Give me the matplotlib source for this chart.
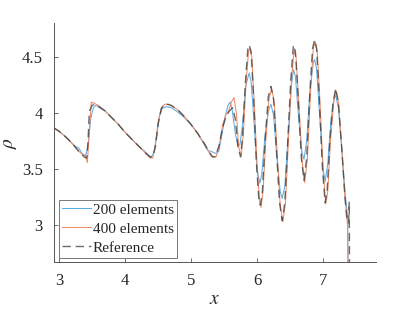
import matplotlib
matplotlib.use("Agg")
import matplotlib.pyplot as plt

plt.rcParams['font.family'] = 'serif'
plt.rcParams['font.serif'] = ['Liberation Serif', 'DejaVu Serif']
plt.rcParams['mathtext.fontset'] = 'stix'

# Reference solution
x_ref = [2.92, 3.0, 3.1, 3.2, 3.3, 3.38, 3.42, 3.44, 3.46, 3.50, 3.55, 3.6, 3.7, 3.8, 3.9, 4.0,
         4.1, 4.2, 4.3, 4.38, 4.42, 4.46, 4.50, 4.55, 4.6, 4.65, 4.7, 4.8, 4.9, 5.0, 5.1, 5.2,
         5.28, 5.32, 5.36, 5.42, 5.48, 5.53, 5.58, 5.63, 5.67, 5.71, 5.75, 5.78, 5.82, 5.86,
         5.88, 5.91, 5.95, 5.99, 6.03, 6.05, 6.08, 6.12, 6.17, 6.21, 6.25, 6.29, 6.34, 6.38,
         6.42, 6.46, 6.51, 6.55, 6.58, 6.62, 6.67, 6.71, 6.75, 6.80, 6.84, 6.87, 6.90, 6.94,
         6.99, 7.03, 7.06, 7.10, 7.15, 7.19, 7.23, 7.28, 7.33, 7.36, 7.385, 7.395, 7.40]
y_ref = [3.87, 3.84, 3.79, 3.73, 3.66, 3.61, 3.60, 3.75, 4.02, 4.07, 4.08, 4.06, 4.02, 3.96, 3.90, 3.83,
         3.77, 3.71, 3.65, 3.61, 3.61, 3.70, 3.90, 4.04, 4.08, 4.08, 4.07, 4.03, 3.97, 3.90, 3.82, 3.73,
         3.65, 3.61, 3.61, 3.70, 3.88, 3.97, 4.02, 4.05, 3.95, 3.70, 3.61, 3.80, 4.25, 4.58,
         4.61, 4.55, 4.10, 3.55, 3.20, 3.18, 3.30, 3.75, 4.15, 4.24, 4.12, 3.70, 3.20, 3.04,
         3.20, 3.70, 4.30, 4.61, 4.55, 4.15, 3.60, 3.40, 3.60, 4.20, 4.58, 4.655, 4.58, 4.15,
         3.50, 3.20, 3.30, 3.75, 4.10, 4.22, 4.10, 3.70, 3.25, 3.05, 3.02, 3.21, 2.40]

# 200 elements
x_200 = [2.92, 3.0, 3.1, 3.2, 3.26, 3.30, 3.35, 3.40, 3.44, 3.48, 3.52, 3.56, 3.62, 3.7, 3.8, 3.9,
         4.0, 4.1, 4.2, 4.3, 4.36, 4.40, 4.44, 4.48, 4.52, 4.56, 4.62, 4.7, 4.8, 4.9, 5.0, 5.1,
         5.2, 5.25, 5.3, 5.38, 5.42, 5.47, 5.52, 5.56, 5.59, 5.62, 5.67, 5.71, 5.74, 5.78, 5.83,
         5.88, 5.91, 5.95, 6.00, 6.04, 6.07, 6.12, 6.17, 6.21, 6.25, 6.30, 6.35, 6.38, 6.42,
         6.47, 6.52, 6.55, 6.58, 6.63, 6.68, 6.71, 6.75, 6.80, 6.85, 6.87, 6.90, 6.95, 7.00,
         7.03, 7.07, 7.12, 7.17, 7.19, 7.23, 7.28, 7.33, 7.37, 7.38]
y_200 = [3.87, 3.84, 3.79, 3.73, 3.70, 3.69, 3.64, 3.62, 3.70, 3.95, 4.05, 4.07, 4.05, 4.02, 3.96, 3.90,
         3.83, 3.77, 3.71, 3.66, 3.62, 3.61, 3.65, 3.80, 3.97, 4.04, 4.06, 4.05, 4.01, 3.96, 3.90, 3.82,
         3.72, 3.67, 3.66, 3.64, 3.66, 3.82, 3.98, 4.07, 4.10, 4.04, 3.82, 3.71, 3.72, 3.90, 4.25,
         4.36, 4.28, 3.95, 3.50, 3.375, 3.45, 3.80, 4.02, 4.08, 3.98, 3.60, 3.30, 3.24, 3.35,
         3.80, 4.25, 4.39, 4.33, 3.95, 3.65, 3.59, 3.75, 4.20, 4.45, 4.48, 4.40, 3.95, 3.50,
         3.39, 3.55, 3.95, 4.14, 4.16, 4.05, 3.70, 3.30, 3.07, 2.40]

# 400 elements
x_400 = [2.92, 3.0, 3.1, 3.2, 3.3, 3.36, 3.40, 3.43, 3.46, 3.49, 3.53, 3.6, 3.7, 3.8, 3.9, 4.0,
         4.1, 4.2, 4.3, 4.38, 4.42, 4.46, 4.50, 4.55, 4.6, 4.65, 4.7, 4.8, 4.9, 5.0, 5.1, 5.2,
         5.28, 5.34, 5.38, 5.43, 5.48, 5.53, 5.57, 5.61, 5.65, 5.69, 5.72, 5.76, 5.79, 5.83,
         5.87, 5.89, 5.92, 5.96, 6.00, 6.04, 6.06, 6.09, 6.13, 6.18, 6.22, 6.26, 6.30, 6.35,
         6.39, 6.43, 6.47, 6.52, 6.56, 6.59, 6.63, 6.68, 6.72, 6.76, 6.81, 6.85, 6.88, 6.91,
         6.95, 7.00, 7.04, 7.07, 7.11, 7.16, 7.19, 7.23, 7.28, 7.33, 7.37, 7.38]
y_400 = [3.87, 3.84, 3.79, 3.73, 3.66, 3.63, 3.62, 3.56, 3.85, 4.10, 4.09, 4.07, 4.02, 3.96, 3.90, 3.83,
         3.77, 3.71, 3.65, 3.60, 3.60, 3.72, 3.92, 4.05, 4.08, 4.08, 4.07, 4.03, 3.97, 3.90, 3.82, 3.73,
         3.64, 3.61, 3.61, 3.72, 3.90, 3.99, 4.02, 4.10, 4.14, 3.98, 3.70, 3.62, 3.80, 4.25,
         4.55, 4.58, 4.50, 4.05, 3.52, 3.20, 3.16, 3.30, 3.75, 4.13, 4.22, 4.10, 3.68, 3.18,
         3.03, 3.20, 3.70, 4.30, 4.56, 4.50, 4.12, 3.58, 3.38, 3.58, 4.20, 4.58, 4.64, 4.56,
         4.12, 3.48, 3.19, 3.30, 3.75, 4.10, 4.21, 4.10, 3.70, 3.25, 3.00, 2.40]

x_ticks = [3, 4, 5, 6, 7]
y_ticks = [3, 3.5, 4, 4.5]
y_tick_labels = ['3', '3.5', '4', '4.5']

fig = plt.figure(figsize=(4.15, 3.12), dpi=100)
ax = fig.add_axes([0.130, 0.160, 0.776, 0.766])

ax.plot(x_200, y_200, color='#5aaee6', lw=0.75, label='200 elements')
ax.plot(x_400, y_400, color='#ef8a66', lw=0.75, label='400 elements')
ax.plot(x_ref, y_ref, color='#3a3a3a', lw=1.0, ls=(0, (6, 3.5)), alpha=0.75, label='Reference')

ax.set_xlim(2.924, 7.80)
ax.set_ylim(2.67, 4.806)
ax.set_xticks(x_ticks)
ax.set_yticks(y_ticks)
ax.set_yticklabels(y_tick_labels)

for s in ['top', 'right']:
    ax.spines[s].set_visible(False)
for s in ['left', 'bottom']:
    ax.spines[s].set_color('#555555')
    ax.spines[s].set_linewidth(0.7)
ax.tick_params(direction='in', length=3, width=0.6, color='#555555',
               labelsize=12, labelcolor='#262626', pad=8)

ax.set_xlabel(r'$x$', fontsize=14, color='#262626', labelpad=1)
ax.set_ylabel(r'$\rho$', fontsize=14, color='#262626', labelpad=2)

leg = ax.legend(loc='lower left', bbox_to_anchor=(0.005, 0.005), fontsize=11.0, frameon=True,
                fancybox=False, edgecolor='#555555', handlelength=1.9, handletextpad=0.15,
                borderpad=0.2, labelspacing=0.35, borderaxespad=0.2)
leg.get_frame().set_linewidth(0.7)
for t in leg.get_texts():
    t.set_color('#262626')

fig.savefig('out.png', dpi=100)
